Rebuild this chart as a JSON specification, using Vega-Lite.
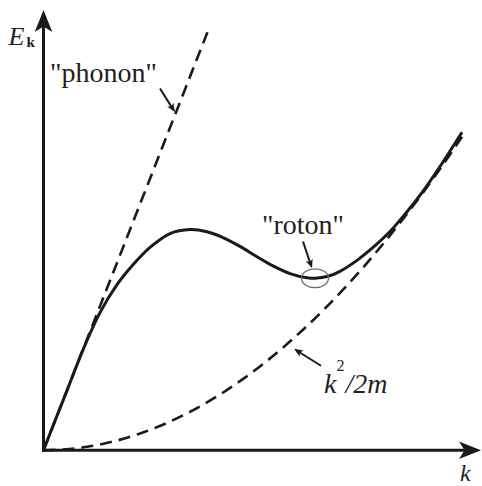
{
  "$schema": "https://vega.github.io/schema/vega-lite/v6.json",
  "width": 482,
  "height": 486,
  "autosize": {"type": "fit", "contains": "padding"},
  "padding": 0,
  "background": "white",
  "config": {"view": {"stroke": null}, "text": {"font": "Liberation Serif", "color": "#231f20", "align": "left", "baseline": "alphabetic"}},
  "datasets": {
    "dispersion": [
      {"k": 0, "E": 0}, {"k": 0.115, "E": 0.295}, {"k": 0.235, "E": 0.6},
      {"k": 0.395, "E": 1.01}, {"k": 0.565, "E": 1.384}, {"k": 0.735, "E": 1.665},
      {"k": 0.895, "E": 1.865}, {"k": 1.065, "E": 2.04}, {"k": 1.265, "E": 2.18},
      {"k": 1.465, "E": 2.22}, {"k": 1.635, "E": 2.198}, {"k": 1.795, "E": 2.14},
      {"k": 1.965, "E": 2.051}, {"k": 2.135, "E": 1.947}, {"k": 2.295, "E": 1.854},
      {"k": 2.465, "E": 1.777}, {"k": 2.635, "E": 1.735}, {"k": 2.715, "E": 1.73},
      {"k": 2.845, "E": 1.75}, {"k": 2.965, "E": 1.8}, {"k": 3.135, "E": 1.91},
      {"k": 3.295, "E": 2.04}, {"k": 3.465, "E": 2.2}, {"k": 3.635, "E": 2.4},
      {"k": 3.805, "E": 2.62}, {"k": 3.975, "E": 2.87}, {"k": 4.185, "E": 3.2}
    ],
    "free": [
      {"k": 0, "E": 0}, {"k": 0.2, "E": 0.007}, {"k": 0.4, "E": 0.029},
      {"k": 0.6, "E": 0.065}, {"k": 0.8, "E": 0.115}, {"k": 1.0, "E": 0.18},
      {"k": 1.2, "E": 0.259}, {"k": 1.4, "E": 0.353}, {"k": 1.6, "E": 0.461},
      {"k": 1.8, "E": 0.583}, {"k": 2.0, "E": 0.72}, {"k": 2.2, "E": 0.871},
      {"k": 2.4, "E": 1.037}, {"k": 2.6, "E": 1.217}, {"k": 2.8, "E": 1.411},
      {"k": 3.0, "E": 1.62}, {"k": 3.2, "E": 1.843}, {"k": 3.4, "E": 2.081},
      {"k": 3.6, "E": 2.333}, {"k": 3.8, "E": 2.599}, {"k": 4.0, "E": 2.88},
      {"k": 4.185, "E": 3.153}
    ],
    "phonon": [
      {"k": 0, "E": 0}, {"k": 1.645, "E": 4.22}
    ],
    "axes": [
      {"k": -0.015, "E": 0, "k2": 4.25, "E2": 0},
      {"k": 0, "E": -0.015, "k2": 0, "E2": 4.3}
    ],
    "axisHeads": [
      {"k": 4.375, "E": 0, "angle": 0},
      {"k": 0, "E": 4.43, "angle": 270}
    ],
    "pointers": [
      {"k": 1.165, "E": 3.64, "k2": 1.288, "E2": 3.442},
      {"k": 2.595, "E": 2.1, "k2": 2.669, "E2": 1.877},
      {"k": 2.775, "E": 0.85, "k2": 2.547, "E2": 0.993}
    ],
    "pointerHeads": [
      {"k": 1.315, "E": 3.4, "angle": 58},
      {"k": 2.685, "E": 1.83, "angle": 72},
      {"k": 2.505, "E": 1.02, "angle": 212}
    ],
    "rotonMinimum": [
      {"k": 2.715, "E": 1.73}
    ]
  },
  "encoding": {
    "x": {
      "field": "k",
      "type": "quantitative",
      "scale": {"domain": [-0.435, 4.385], "nice": false, "zero": false},
      "axis": null
    },
    "y": {
      "field": "E",
      "type": "quantitative",
      "scale": {"domain": [-0.33, 4.53], "nice": false, "zero": false},
      "axis": null
    }
  },
  "layer": [
    {
      "data": {"name": "phonon"},
      "mark": {"type": "line", "color": "#1a1a1a", "strokeWidth": 2.6, "strokeDash": [12, 7], "strokeCap": "butt"}
    },
    {
      "data": {"name": "free"},
      "mark": {"type": "line", "color": "#1a1a1a", "strokeWidth": 2.6, "strokeDash": [12, 7], "strokeCap": "butt", "interpolate": "catmull-rom"}
    },
    {
      "data": {"name": "dispersion"},
      "mark": {"type": "line", "color": "#1a1a1a", "strokeWidth": 3, "interpolate": "catmull-rom"}
    },
    {
      "data": {"name": "axes"},
      "mark": {"type": "rule", "color": "#1a1a1a", "strokeWidth": 3},
      "encoding": {
        "x2": {"field": "k2"},
        "y2": {"field": "E2"}
      }
    },
    {
      "data": {"name": "axisHeads"},
      "mark": {"type": "point", "shape": "M0,0L-2,-0.8L-1.5,0L-2,0.8Z", "filled": true, "size": 484, "color": "#1a1a1a", "opacity": 1},
      "encoding": {"angle": {"field": "angle", "type": "quantitative", "scale": null}}
    },
    {
      "data": {"name": "pointers"},
      "mark": {"type": "rule", "color": "#1a1a1a", "strokeWidth": 2},
      "encoding": {
        "x2": {"field": "k2"},
        "y2": {"field": "E2"}
      }
    },
    {
      "data": {"name": "pointerHeads"},
      "mark": {"type": "point", "shape": "M0,0L-2,-0.8L-1.5,0L-2,0.8Z", "filled": true, "size": 81, "color": "#1a1a1a", "opacity": 1},
      "encoding": {"angle": {"field": "angle", "type": "quantitative", "scale": null}}
    },
    {
      "data": {"name": "rotonMinimum"},
      "mark": {"type": "point", "shape": "M-1,0A1,0.7 0 1,1 1,0A1,0.7 0 1,1 -1,0Z", "filled": false, "size": 729, "stroke": "#6d6d6d", "strokeWidth": 1.3, "opacity": 1}
    },
    {
      "data": {"values": [
        {"k": 0.065, "E": 3.7, "text": "\"phonon\""},
        {"k": 2.185, "E": 2.18, "text": "\"roton\""}
      ]},
      "mark": {"type": "text", "fontSize": 28},
      "encoding": {"text": {"field": "text"}}
    },
    {
      "data": {"values": [
        {"k": 2.805, "E": 0.58, "text": "k"},
        {"k": 3.02, "E": 0.58, "text": "/2m"}
      ]},
      "mark": {"type": "text", "fontStyle": "italic", "fontSize": 28},
      "encoding": {"text": {"field": "text"}}
    },
    {
      "data": {"values": [
        {"k": 2.93, "E": 0.8, "text": "2"}
      ]},
      "mark": {"type": "text", "fontSize": 16},
      "encoding": {"text": {"field": "text"}}
    },
    {
      "data": {"values": [
        {"k": -0.35, "E": 4.08, "text": "E"}
      ]},
      "mark": {"type": "text", "fontStyle": "italic", "fontSize": 26},
      "encoding": {"text": {"field": "text"}}
    },
    {
      "data": {"values": [
        {"k": 4.165, "E": -0.31, "text": "k"}
      ]},
      "mark": {"type": "text", "fontStyle": "italic", "fontSize": 24},
      "encoding": {"text": {"field": "text"}}
    },
    {
      "data": {"values": [
        {"k": -0.17, "E": 4.06, "text": "k"}
      ]},
      "mark": {"type": "text", "fontWeight": "bold", "fontSize": 15},
      "encoding": {"text": {"field": "text"}}
    }
  ]
}
